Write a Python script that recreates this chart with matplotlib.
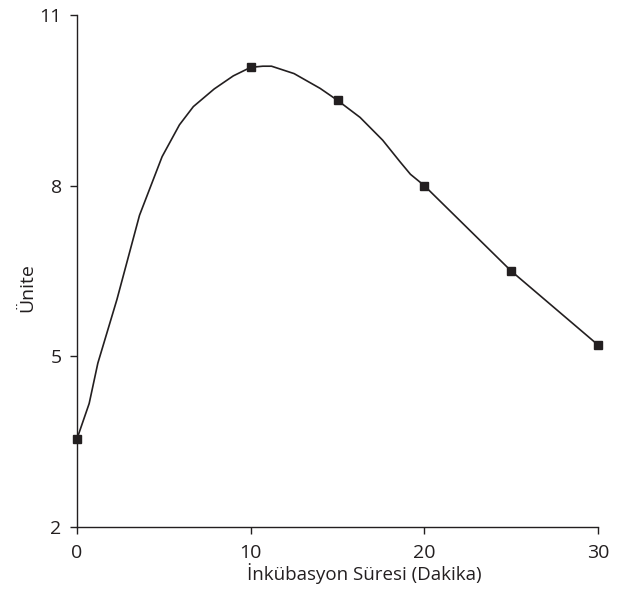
import matplotlib
matplotlib.use("Agg")
import matplotlib.pyplot as plt

plt.rcParams['font.family'] = ['Open Sans', 'DejaVu Sans']

# measured points
sure = [0, 10, 15, 20, 25, 30]
unite = [3.55, 10.08, 9.5, 8.0, 6.5, 5.2]

# smooth curve
egri_x = [0, 0.7, 1.2, 2.3, 3.6, 4.9, 5.9, 6.7, 7.9, 9.0, 10, 10.7, 11.2, 12.5, 14.0, 15,
          16.3, 17.6, 18.6, 19.2, 20, 25, 30]
egri_y = [3.55, 4.17, 4.88, 6.0, 7.48, 8.51, 9.07, 9.39, 9.7, 9.93, 10.08, 10.1, 10.1, 9.97,
          9.71, 9.5, 9.2, 8.8, 8.42, 8.2, 8.0, 6.5, 5.2]

x_ticks = [0, 10, 20, 30]
y_ticks = [2, 5, 8, 11]

renk = "#231f20"

fig = plt.figure(figsize=(6.18, 5.9), dpi=100)
ax = fig.add_axes([77/618, 1 - 527/590, (598-77)/618, (527-15)/590])

ax.plot(egri_x, egri_y, color=renk, lw=1.2, clip_on=False)
ax.plot(sure, unite, ls="none", marker="s", ms=6, color=renk, clip_on=False, zorder=3)

ax.set_xlim(0, 30)
ax.set_ylim(2, 11)
ax.set_xticks(x_ticks)
ax.set_yticks(y_ticks)
ax.spines["top"].set_visible(False)
ax.spines["right"].set_visible(False)
for s in ("left", "bottom"):
    ax.spines[s].set_color(renk)
    ax.spines[s].set_linewidth(1.0)
ax.tick_params(direction="out", length=5, width=1.0, colors=renk, labelsize=14)
ax.tick_params(axis="y", pad=6)
ax.tick_params(axis="x", pad=7)

ax.set_xlabel("İnkübasyon Süresi (Dakika)", fontsize=13.5, color=renk, va="center")
ax.xaxis.set_label_coords(0.551, -0.09)
ax.set_ylabel("Ünite", fontsize=14, color=renk, va="center")
ax.yaxis.set_label_coords(-0.096, 0.467)

fig.savefig("out.png", dpi=100)
